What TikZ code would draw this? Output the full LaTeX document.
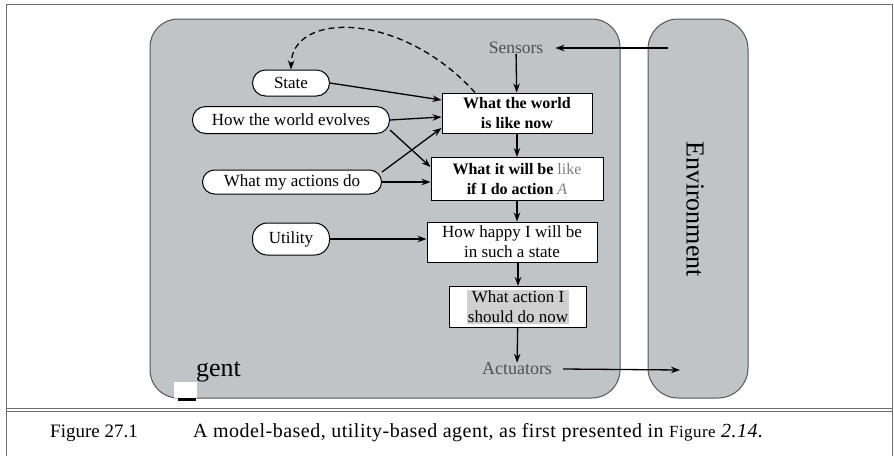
\documentclass[tikz,border=0pt]{standalone}
\usepackage{fontspec}
\setmainfont{Liberation Serif}
\usetikzlibrary{arrows.meta, positioning, calc}
\definecolor{panel}{RGB}{192,196,199}
\definecolor{edge}{RGB}{85,85,85}
\definecolor{labelgrey}{RGB}{80,80,80}
\definecolor{hilite}{RGB}{208,208,208}
\definecolor{framegrey}{RGB}{110,110,110}

\begin{document}
\begin{tikzpicture}[x=1pt, y=-1pt,
  every node/.style={font=\fontsize{17}{20}\selectfont, align=center, inner sep=0pt},
  box/.style={draw, fill=white, line width=1pt},
  oval/.style={draw, fill=white, line width=1pt},
  link/.style={-{Stealth[length=9pt,width=6.5pt]}, line width=1.3pt}]
  \useasboundingbox (0,0) rectangle (894,456);

  % page frame and caption rule
  \draw[framegrey, line width=1pt] (6,456) -- (6,4) -- (892,4) -- (892,456);
  \draw[framegrey, line width=0.8pt] (6,408) -- (892,408);
  \draw[framegrey, line width=0.8pt] (6,411) -- (892,411);

  % agent and environment panels
  \draw[fill=panel, draw=edge, line width=1pt, rounded corners=28pt] (150,19) rectangle (620,398);
  \draw[fill=panel, draw=edge, line width=1pt, rounded corners=30pt] (648,19) rectangle (748,398);

  \node[rotate=-90, font=\fontsize{26}{30}\selectfont] (env) at (695,209) {Environment};
  \node[anchor=west, font=\fontsize{26}{30}\selectfont] (gent) at (196,372) {gent};
  \fill[white] (174,382) rectangle (197,398);
  \fill[black] (178,398) rectangle (196,401);

  % model parts
  \node[oval, rounded corners=13pt, minimum width=77pt, minimum height=26pt] (state) at (291,83) {State};
  \node[oval, rounded corners=13pt, minimum width=197pt, minimum height=27pt] (evolves) at (291,120) {How the world evolves};
  \node[oval, rounded corners=12pt, minimum width=179pt, minimum height=24pt] (actions) at (292,182) {What my actions do};
  \node[oval, rounded corners=15pt, minimum width=77pt, minimum height=32pt] (utility) at (291,239) {Utility};

  \node[box, minimum width=150pt, minimum height=40pt, font=\bfseries\fontsize{16}{20}\selectfont] (w1) at (517,113) {What the world\\is like now};
  \node[box, minimum width=172pt, minimum height=43pt, font=\fontsize{16}{20}\selectfont] (w2) at (517,179) {\textbf{What it will be} \textcolor{gray}{like}\\\textbf{if I do action} \textcolor{gray}{\textit{A}}};
  \node[box, minimum width=170pt, minimum height=40pt] (w3) at (512,242) {How happy I will be\\in such a state};
  \node[box, minimum width=137pt, minimum height=41pt] (w4) at (518,307) {};
  \node[fill=hilite, inner sep=1pt] (w4txt) at (w4) {What action I\\should do now};

  \node[text=labelgrey, font=\fontsize{17.5}{20}\selectfont] (sensors) at (516,48) {Sensors};
  \node[text=labelgrey, font=\fontsize{18}{20}\selectfont] (actuators) at (517,369) {Actuators};
  \coordinate (envin) at (668,48);
  \coordinate (envout) at (680,370);

  % connectors
  \draw[link] (envin) -- ([xshift=12pt]sensors.east);
  \draw[link] (sensors) -- (w1);
  \draw[link] (w1) -- (w2);
  \draw[link] (w2.south) -- (w2.south |- w3.north);
  \draw[link] (w3.south -| w4.north) -- (w4.north);
  \draw[link] (w4) -- (actuators);
  \draw[link] ([xshift=11pt]actuators.east) -- (envout);

  \draw[link] (state.east) -- ([yshift=13pt]w1.west);
  \draw[link] (evolves.east) -- ([yshift=-4pt]w1.west);
  \draw[link] ([yshift=-10pt]evolves.east) -- ([yshift=12pt]w2.west);
  \draw[link] ([yshift=10pt]actions.east) -- ([yshift=-15pt]w1.west);
  \draw[link] (actions.east) -- (actions.east -| w2.west);
  \draw[link] (utility.east) -- (utility.east -| w3.west);

  \draw[link, dash pattern=on 6pt off 4pt] ([xshift=-42pt]w1.north) .. controls (400,10) and (292,12) .. (state.north);

  % caption
  \node[anchor=west, font=\fontsize{19}{22}\selectfont] (fignum) at (50,433) {Figure 27.1};
  \node[anchor=west, font=\fontsize{20}{22}\selectfont\addfontfeatures{LetterSpace=2.5}] (caption) at (193,433) {A model-based, utility-based agent, as first presented in {\fontsize{17}{20}\selectfont Figure} \textit{2.14}.};
\end{tikzpicture}
\end{document}
